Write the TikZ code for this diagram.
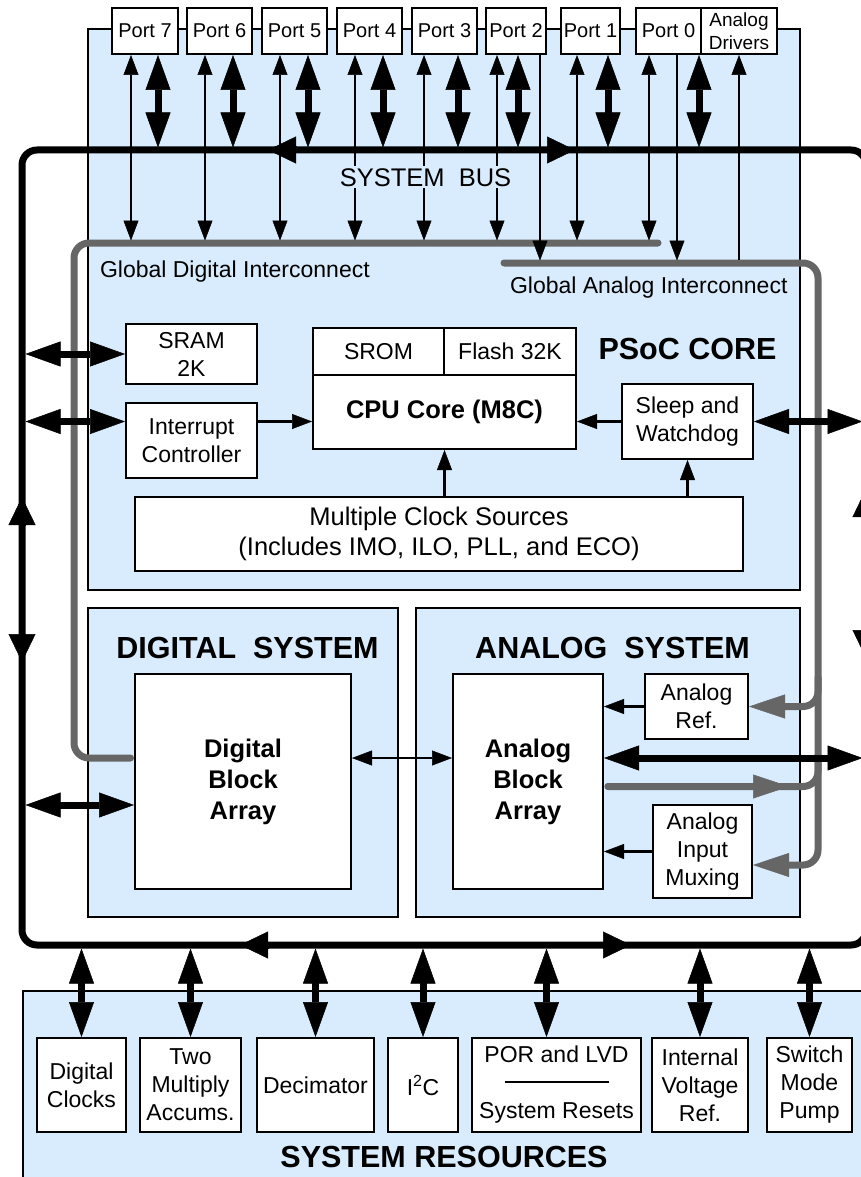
\documentclass[tikz,border=0pt]{standalone}
\usepackage{fontspec}
\setmainfont{Liberation Sans}
\usetikzlibrary{arrows.meta,calc}
\definecolor{corebg}{RGB}{216,236,253}
\definecolor{wire}{RGB}{102,102,102}

\tikzset{every picture/.style={line width=2pt}}
\tikzset{
  sysbox/.style={draw, fill=corebg, line width=2.5pt, inner sep=0pt},
  blk/.style={draw, fill=white, line width=2pt, inner sep=0pt, align=center, font=\fontsize{23}{28}\selectfont},
  portbox/.style={blk, minimum height=46pt, font=\fontsize{20}{23}\selectfont},
  boldblk/.style={blk, font=\fontsize{25.5}{31}\selectfont\bfseries},
  title/.style={inner sep=0pt, anchor=base, font=\fontsize{30.5}{36}\selectfont\bfseries},
  lbl/.style={inner sep=0pt, anchor=base west, font=\fontsize{23}{28}\selectfont},
  bus/.style={line width=7pt, rounded corners=15pt},
  bushead/.style={line width=7pt, -{Triangle[width=27pt,length=28pt,line width=0.5pt]}},
  thinarr/.style={line width=2.5pt, {Triangle[width=15pt,length=20pt,line width=0.5pt]}-{Triangle[width=15pt,length=20pt,line width=0.5pt]}},
  thinone/.style={line width=2.5pt, -{Triangle[width=15pt,length=20pt,line width=0.5pt]}},
  fatarr/.style={line width=7pt, {Triangle[width=25pt,length=35pt,line width=0.5pt]}-{Triangle[width=25pt,length=35pt,line width=0.5pt]}},
  wireline/.style={draw=wire, line width=7pt, rounded corners=15pt},
  wirehead/.style={wireline, -{Triangle[width=24pt,length=36pt,line width=0.5pt]}},
}

\begin{document}
\begin{tikzpicture}[x=1pt,y=1pt,yscale=-1,xscale=1]
\useasboundingbox (0,0) rectangle (861,1177);

%Shape: Rectangle (background blocks)
\node (core) [sysbox, minimum width=712pt, minimum height=561pt] at (444,309.5) {};
\node (digsys) [sysbox, minimum width=310pt, minimum height=309pt] at (243,762.5) {};
\node (anasys) [sysbox, minimum width=384pt, minimum height=309pt] at (608,762.5) {};
\node (sysres) [sysbox, minimum width=839pt, minimum height=187pt] at (442.5,1084.5) {};

% bus and interconnect corners
\coordinate (b1) at (22,150);
\coordinate (b2) at (866,150);
\coordinate (b3) at (866,945);
\coordinate (b4) at (22,945);
\coordinate (gdi) at (658,243);
\coordinate (gdl) at (74,758);
\coordinate (gai) at (504,263);
\coordinate (gab) at (818,865);

%Shape: Rectangle (ports)
\node (p7) [portbox, minimum width=66pt] at (145,31) {Port 7};
\node (p6) [portbox, minimum width=65pt] at (219.5,31) {Port 6};
\node (p5) [portbox, minimum width=65pt] at (294.5,31) {Port 5};
\node (p4) [portbox, minimum width=65pt] at (369.5,31) {Port 4};
\node (p3) [portbox, minimum width=65pt] at (444.5,31) {Port 3};
\node (p2) [portbox, minimum width=60pt] at (516,31) {Port 2};
\node (p1) [portbox, minimum width=59pt] at (590.5,31) {Port 1};
\node (p0) [portbox, minimum width=65pt] at (668.5,31) {Port 0};
\node (adrv) [portbox, minimum width=76pt, font=\fontsize{19}{22.5}\selectfont] at (739,31) {Analog\\Drivers};

%Shape: Rectangle (core)
\node (sram) [blk, minimum width=131pt, minimum height=60pt] at (191.5,354) {SRAM\\2K};
\node (intc) [blk, minimum width=131pt, minimum height=75pt] at (191.5,440.5) {Interrupt\\Controller};
\node (srom) [blk, minimum width=131pt, minimum height=47pt] at (378.5,351.5) {SROM};
\node (flash) [blk, minimum width=132pt, minimum height=47pt] at (510,351.5) {Flash 32K};
\node (cpu) [boldblk, minimum width=263pt, minimum height=74pt] at (444.5,412) {CPU Core (M8C)};
\node (sleep) [blk, minimum width=131pt, minimum height=75pt] at (687.5,421.5) {Sleep and\\Watchdog};
\node (clk) [blk, minimum width=608pt, minimum height=74pt, font=\fontsize{25.5}{30}\selectfont] at (439,534) {Multiple Clock Sources\\(Includes IMO, ILO, PLL, and ECO)};

%Shape: Rectangle (digital and analog)
\node (dba) [boldblk, minimum width=216pt, minimum height=215pt] at (243,781.5) {Digital\\Block\\Array};
\node (aba) [boldblk, minimum width=150pt, minimum height=215pt] at (528,781.5) {Analog\\Block\\Array};
\node (aref) [blk, minimum width=103pt, minimum height=65pt] at (696.5,706.5) {Analog\\Ref.};
\node (amux) [blk, minimum width=99pt, minimum height=93pt] at (702.5,851.5) {Analog\\Input\\Muxing};

%Shape: Rectangle (system resources)
\node (dclk) [blk, minimum width=89pt, minimum height=94pt] at (81.5,1085) {Digital\\Clocks};
\node (mac) [blk, minimum width=101pt, minimum height=94pt] at (190.5,1085) {Two\\Multiply\\Accums.};
\node (dec) [blk, minimum width=117pt, minimum height=94pt] at (315.5,1085) {Decimator};
\node (iic) [blk, minimum width=70pt, minimum height=94pt] at (423,1085) {I\textsuperscript{2}C};
\node (por) [blk, minimum width=169pt, minimum height=94pt] at (556.5,1085) {POR and LVD\\\rule[0.35em]{104pt}{1.5pt}\\System Resets};
\node (ivr) [blk, minimum width=96pt, minimum height=94pt] at (700,1085) {Internal\\Voltage\\Ref.};
\node (smp) [blk, minimum width=85pt, minimum height=94pt] at (809.5,1085) {Switch\\Mode\\Pump};

%Interconnect lines
\draw[wireline, line cap=round, shorten >=3.5pt] (gdi) -| (gdl) -- (dba.west |- gdl);
\draw[wirehead, line cap=round] (gai) -| (gab) -- (amux.east |- gab);
\draw[wirehead] ($(aref.east -| gab)+(0,-30)$) |- (aref.east);
\draw[wireline, line cap=round] ($(aba.east)+(4,5)$) -| ($(gab)+(0,-110)$);
\draw[wirehead, line cap=round] ($(aba.east)+(4,5)$) -- ($(aba.east)+(185,5)$);

%Straight Lines (ports)
\draw[thinarr] ($(p7.south west)+(20,0)$) -- ($(p7.south west)+(20,185.5)$);
\draw[fatarr] ($(p7.south west)+(47,0)$) -- ($(p7.south west)+(47,92.5)$);
\draw[thinarr] ($(p6.south west)+(19,0)$) -- ($(p6.south west)+(19,185.5)$);
\draw[fatarr] ($(p6.south west)+(47,0)$) -- ($(p6.south west)+(47,92.5)$);
\draw[thinarr] ($(p5.south west)+(19,0)$) -- ($(p5.south west)+(19,185.5)$);
\draw[fatarr] ($(p5.south west)+(47,0)$) -- ($(p5.south west)+(47,92.5)$);
\draw[thinarr] ($(p4.south west)+(19,0)$) -- ($(p4.south west)+(19,185.5)$);
\draw[fatarr] ($(p4.south west)+(47,0)$) -- ($(p4.south west)+(47,92.5)$);
\draw[thinarr] ($(p3.south west)+(13,0)$) -- ($(p3.south west)+(13,185.5)$);
\draw[fatarr] ($(p3.south west)+(47,0)$) -- ($(p3.south west)+(47,92.5)$);
\draw[thinarr] ($(p2.south west)+(12,0)$) -- ($(p2.south west)+(12,185.5)$);
\draw[fatarr] ($(p2.south west)+(33,0)$) -- ($(p2.south west)+(33,92.5)$);
\draw[thinone] ($(p2.south west)+(55,0)$) -- ($(p2.south west)+(55,205.5)$);
\draw[thinarr] ($(p1.south west)+(17,0)$) -- ($(p1.south west)+(17,185.5)$);
\draw[fatarr] ($(p1.south west)+(48,0)$) -- ($(p1.south west)+(48,92.5)$);
\draw[thinarr] ($(p0.south west)+(14,0)$) -- ($(p0.south west)+(14,185.5)$);
\draw[thinone] ($(p0.south west)+(42,0)$) -- ($(p0.south west)+(42,205.5)$);
\draw[fatarr] ($(p0.south west)+(64,0)$) -- ($(p0.south west)+(64,92.5)$);
\draw[thinone, shorten <=3.5pt] (adrv.south |- gai) -- (adrv.south);

%Straight Lines (core)
\draw[fatarr, shorten <=3.5pt] (sram.west -| b1) -- (sram.west);
\draw[fatarr, shorten <=3.5pt] (sleep.west -| b1) -- (intc.west |- sleep.west);
\draw[thinone] (intc.east |- sleep.west) -- (cpu.west |- sleep.west);
\draw[thinone] (sleep.west) -- (cpu.east |- sleep.west);
\draw[thinone] (clk.north -| cpu.south) -- (cpu.south);
\draw[thinone] (clk.north -| sleep.south) -- (sleep.south);
\draw[fatarr, shorten >=3.5pt] (sleep.east) -- (sleep.east -| b2);

%Straight Lines (digital and analog)
\draw[fatarr, shorten <=3.5pt] ($(dba.west -| b1)+(0,23.5)$) -- ($(dba.west)+(0,23.5)$);
\draw[thinarr] (dba.east |- gdl) -- (aba.west |- gdl);
\draw[fatarr, shorten >=3.5pt] (aba.east |- gdl) -- (gdl -| b2);
\draw[thinone] (aref.west) -- (aref.west -| aba.east);
\draw[thinone] (amux.west) -- (amux.west -| aba.east);

%Straight Lines (system resources)
\draw[fatarr, shorten <=3.5pt] (dclk.north |- b4) -- (dclk.north);
\draw[fatarr, shorten <=3.5pt] (mac.north |- b4) -- (mac.north);
\draw[fatarr, shorten <=3.5pt] (dec.north |- b4) -- (dec.north);
\draw[fatarr, shorten <=3.5pt] (iic.north |- b4) -- (iic.north);
\draw[fatarr, shorten <=3.5pt] ($(por.north |- b4)+(-10,0)$) -- ($(por.north)+(-10,0)$);
\draw[fatarr, shorten <=3.5pt] (ivr.north |- b4) -- (ivr.north);
\draw[fatarr, shorten <=3.5pt] (smp.north |- b4) -- (smp.north);

%System bus
\draw[bus] ($(b1)!0.5!(b2)$) -- (b2) -- (b3) -- (b4) -- (b1) -- cycle;
\draw[bushead] (296,150) -- (268,150);
\draw[bushead] (547,150) -- (575,150);
\draw[bushead] (22,525) -- (22,497);
\draw[bushead] (22,634) -- (22,662);
\draw[bushead] (866,517) -- (866,489);
\draw[bushead] (866,630) -- (866,658);
\draw[bushead] (268,945) -- (240,945);
\draw[bushead] (603,945) -- (631,945);

% Text Node
\node (buslbl) [fill=corebg, inner sep=2pt, anchor=base, font=\fontsize{25.5}{30}\selectfont] at (425.5,186) {SYSTEM~~BUS};
% Text Node
\node (gdilbl) [lbl] at (99,277) {Global Digital Interconnect};
% Text Node
\node (gailbl) [lbl] at (509,293) {Global Analog Interconnect};
% Text Node
\node (coretitle) [title] at (687.5,359) {PSoC CORE};
% Text Node
\node (digtitle) [title] at (247.5,658) {DIGITAL~~SYSTEM};
% Text Node
\node (anatitle) [title] at (612.5,658) {ANALOG~~SYSTEM};
% Text Node
\node (restitle) [title] at (444,1167) {SYSTEM RESOURCES};

\end{tikzpicture}
\end{document}
